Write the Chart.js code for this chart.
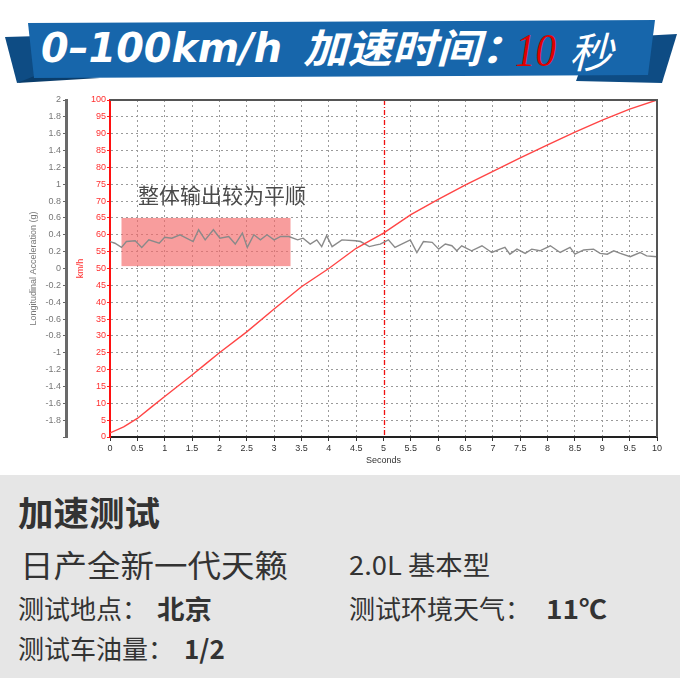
<!DOCTYPE html>
<html>
<head>
<meta charset="utf-8">
<script src="https://cdn.jsdelivr.net/npm/chart.js@4.4.0/dist/chart.umd.min.js"></script>
<style>
  body { margin: 0; width: 680px; height: 678px; background: #fff; position: relative; overflow: hidden; }
  #banner { position: absolute; left: 0; top: 0; }
  #wrap { position: absolute; left: 0; top: 88px; width: 680px; height: 382px; }
  #info { position: absolute; left: 0; top: 475px; background: #e6e6e6; }
</style>
</head>
<body>

<svg id="banner" width="680" height="90">
  <polygon points="5,37 40,36 42,78 17,83" fill="#0e4c84"/>
  <polygon points="17,83 42,73 100,78" fill="#0a3d6b"/>
  <polygon points="640,36 677,34 662,83 576,81 580,70" fill="#0e4c84"/>
  <polygon points="28,23 655,20 648,75 34,78" fill="#1766ab"/>
  <text x="41" y="62" textLength="241" lengthAdjust="spacingAndGlyphs" fill="#fff"
        font-family="DejaVu Sans" font-weight="bold" font-style="italic" font-size="41">0–100km/h</text>
  <text x="303" y="63" textLength="222" lengthAdjust="spacingAndGlyphs" fill="#fff"
        font-family="Noto Sans CJK SC" font-weight="bold" font-style="italic" font-size="40">加速时间：</text>
  <text x="515" y="66" textLength="41" lengthAdjust="spacingAndGlyphs" fill="#e00000"
        font-family="Liberation Serif" font-style="italic" font-size="46">10</text>
  <text x="569" y="68" textLength="44" lengthAdjust="spacingAndGlyphs" fill="#fff"
        font-family="Noto Sans CJK SC" font-style="italic" font-size="42">秒</text>
</svg>

<div id="wrap"><canvas id="myChart"></canvas></div>

<svg id="info" width="680" height="203" font-family="Noto Sans CJK SC" fill="#333">
  <text x="18" y="51" font-size="34" font-weight="bold" textLength="142" lengthAdjust="spacingAndGlyphs">加速测试</text>
  <text x="20" y="102" font-size="31" textLength="268" lengthAdjust="spacingAndGlyphs">日产全新一代天籁</text>
  <text x="349" y="100" font-size="26" textLength="141" lengthAdjust="spacingAndGlyphs">2.0L 基本型</text>
  <text x="18" y="144" font-size="26">测试地点：</text>
  <text x="157" y="144" font-size="26" font-weight="bold" textLength="55" lengthAdjust="spacingAndGlyphs">北京</text>
  <text x="349" y="144" font-size="26">测试环境天气：</text>
  <text x="546" y="144" font-size="26" font-weight="bold" textLength="61" lengthAdjust="spacingAndGlyphs">11℃</text>
  <text x="18" y="184" font-size="26">测试车油量：</text>
  <text x="184" y="184" font-size="26" font-weight="bold">1/2</text>
</svg>

<script>

// speed (km/h) against time (s)
var speedTime   = [0, 0.25, 0.5, 0.75, 1, 1.25, 1.5, 1.75, 2, 2.5, 3, 3.5, 4, 4.5, 5, 5.5, 6, 6.5, 7, 7.5, 8, 8.5, 9, 9.5, 10];
var speedValues = [1.2, 3, 5.5, 8.8, 12, 15.2, 18.4, 21.7, 25, 31.2, 38, 44.6, 50, 56, 60.5, 66, 70.5, 74.8, 78.8, 82.8, 86.7, 90.5, 94, 97.3, 100];

// longitudinal acceleration (g) against time (s)
var accelTime   = [0, 0.09, 0.21, 0.3, 0.46, 0.58, 0.71, 0.9, 1.0, 1.13, 1.28, 1.37, 1.52, 1.62, 1.74, 1.89, 2.01, 2.17, 2.29, 2.42, 2.51, 2.63, 2.75, 2.87, 3.0, 3.12, 3.27, 3.43, 3.53, 3.66, 3.78, 3.87, 3.96, 4.06, 4.24, 4.49, 4.58, 4.74, 4.87, 4.94, 5.09, 5.21, 5.49, 5.61, 5.73, 5.89, 6.01, 6.13, 6.25, 6.34, 6.43, 6.61, 6.8, 6.98, 7.13, 7.22, 7.31, 7.44, 7.59, 7.71, 7.86, 8.05, 8.23, 8.41, 8.5, 8.66, 8.84, 8.96, 9.09, 9.21, 9.33, 9.51, 9.69, 9.81, 10];
var accelValues = [0.32, 0.30, 0.25, 0.32, 0.33, 0.25, 0.34, 0.30, 0.37, 0.36, 0.40, 0.37, 0.32, 0.46, 0.34, 0.46, 0.36, 0.38, 0.29, 0.42, 0.25, 0.40, 0.34, 0.40, 0.34, 0.38, 0.38, 0.34, 0.36, 0.29, 0.34, 0.26, 0.39, 0.26, 0.34, 0.33, 0.32, 0.26, 0.28, 0.29, 0.34, 0.25, 0.34, 0.19, 0.32, 0.31, 0.23, 0.29, 0.27, 0.21, 0.27, 0.21, 0.27, 0.19, 0.23, 0.25, 0.17, 0.23, 0.18, 0.23, 0.21, 0.27, 0.19, 0.25, 0.17, 0.22, 0.23, 0.18, 0.17, 0.21, 0.18, 0.14, 0.19, 0.15, 0.14];

var xTicks = [0, 0.5, 1, 1.5, 2, 2.5, 3, 3.5, 4, 4.5, 5, 5.5, 6, 6.5, 7, 7.5, 8, 8.5, 9, 9.5, 10];
var xTickLabels = ['0', '0.5', '1', '1.5', '2', '2.5', '3', '3.5', '4', '4.5', '5', '5.5', '6', '6.5', '7', '7.5', '8', '8.5', '9', '9.5', '10'];
var gTicks = [-2, -1.8, -1.6, -1.4, -1.2, -1, -0.8, -0.6, -0.4, -0.2, 0, 0.2, 0.4, 0.6, 0.8, 1, 1.2, 1.4, 1.6, 1.8, 2];
var gTickLabels = ['', '-1.8', '-1.6', '-1.4', '-1.2', '-1', '-0.8', '-0.6', '-0.4', '-0.2', '0', '0.2', '0.4', '0.6', '0.8', '1', '1.2', '1.4', '1.6', '1.8', '2'];

var markerTime = 5;                 // red dashed line
var noteBox = [0.21, 3.3, 50.7, 65]; // t0, t1, kmh0, kmh1
var noteText = '整体输出较为平顺';
var noteAt = [0.51, 71.8];

function pts(xs, ys) {
  return xs.map(function(v, i) { return {x: v, y: ys[i]}; });
}

function edgeColor(ctx, hidden, col) {
  var v = ctx.tick ? ctx.tick.value : null;
  if (hidden.indexOf(v) >= 0) return 'rgba(0,0,0,0)';
  return col;
}

var extras = {
  id: 'extras',
  beforeDatasetsDraw: function(chart) {
    var ctx = chart.ctx, xs = chart.scales.x, ks = chart.scales.kmh, area = chart.chartArea;
    ctx.save();
    var x0 = xs.getPixelForValue(noteBox[0]), x1 = xs.getPixelForValue(noteBox[1]);
    var y0 = ks.getPixelForValue(noteBox[3]), y1 = ks.getPixelForValue(noteBox[2]);
    ctx.fillStyle = 'rgba(245,105,105,0.65)';
    ctx.fillRect(x0, y0, x1 - x0, y1 - y0);

    var mx = Math.round(xs.getPixelForValue(markerTime)) + 0.5;
    ctx.strokeStyle = '#f01010';
    ctx.lineWidth = 1.3;
    ctx.setLineDash([5, 2, 1, 2]);
    ctx.beginPath();
    ctx.moveTo(mx, area.top);
    ctx.lineTo(mx, area.bottom);
    ctx.stroke();
    ctx.restore();
  },
  afterDatasetsDraw: function(chart) {
    var ctx = chart.ctx, xs = chart.scales.x, ks = chart.scales.kmh, area = chart.chartArea;
    ctx.save();
    ctx.strokeStyle = '#555';
    ctx.lineWidth = 2;
    ctx.beginPath();
    ctx.moveTo(area.left, area.top);
    ctx.lineTo(area.right, area.top);
    ctx.lineTo(area.right, area.bottom);
    ctx.stroke();

    ctx.fillStyle = '#4a4a4a';
    ctx.font = '21px "Noto Sans CJK SC"';
    ctx.textBaseline = 'middle';
    ctx.fillText(noteText, xs.getPixelForValue(noteAt[0]), ks.getPixelForValue(noteAt[1]));
    ctx.restore();
  }
};

var tickFont = { family: 'Liberation Sans', size: 9 };

var data = {
  datasets: [
    {
      label: 'speed',
      data: pts(speedTime, speedValues),
      yAxisID: 'kmh',
      borderColor: '#ff4545',
      borderWidth: 1.4,
      pointRadius: 0,
      tension: 0
    },
    {
      label: 'accel',
      data: pts(accelTime, accelValues),
      yAxisID: 'g',
      borderColor: '#8a8a8a',
      borderWidth: 1.4,
      pointRadius: 0,
      tension: 0
    }
  ]
};

var options = {
  responsive: true,
  maintainAspectRatio: false,
  animation: false,
  layout: { padding: { top: 12, right: 23, left: 0, bottom: 0 } },
  plugins: { legend: { display: false }, tooltip: { enabled: false } },
  scales: {
    x: {
      type: 'linear',
      min: 0, max: 10,
      afterBuildTicks: function(axis) { axis.ticks = xTicks.map(function(v) { return {value: v}; }); },
      afterFit: function(axis) { axis.height = 33; },
      ticks: {
        color: '#333', font: tickFont, padding: 2, maxRotation: 0, autoSkip: false,
        callback: function(v, i) { return xTickLabels[i]; }
      },
      grid: {
        color: function(c) { return edgeColor(c, [0, markerTime, 10], '#9a9a9a'); },
        tickColor: '#333', tickLength: 4
      },
      border: { color: '#222', width: 2, dash: [2, 3] },
      title: { display: true, text: 'Seconds', color: '#333', font: tickFont, padding: { top: 0, bottom: 4 } }
    },
    g: {
      type: 'linear',
      position: 'left',
      weight: 1,
      min: -2, max: 2,
      afterBuildTicks: function(axis) { axis.ticks = gTicks.map(function(v) { return {value: v}; }); },
      afterFit: function(axis) { axis.width = 66; },
      ticks: {
        color: '#777', font: tickFont, padding: 2, autoSkip: false,
        callback: function(v, i) { return gTickLabels[i]; }
      },
      grid: { drawOnChartArea: false, color: '#666', tickLength: 3 },
      border: { color: '#6a6a6a', width: 3 },
      title: { display: true, text: 'Longitudinal Acceleration (g)', color: '#777', font: tickFont, padding: { top: 28, bottom: 0 } }
    },
    kmh: {
      type: 'linear',
      position: 'left',
      weight: 0,
      min: 0, max: 100,
      afterFit: function(axis) { axis.width = 44; },
      ticks: { stepSize: 5, color: '#ff3030', font: tickFont, padding: 1, autoSkip: false },
      grid: {
        color: function(c) { return edgeColor(c, [0, 100], '#9a9a9a'); },
        tickColor: '#ff2020', tickLength: 3
      },
      border: { color: '#ff1010', width: 2, dash: [2, 3] },
      title: { display: true, text: 'km/h', color: '#ff3030', font: tickFont, padding: { top: 9, bottom: 0 } }
    }
  }
};

var ctx = document.getElementById('myChart');

var accelChart = new Chart(ctx, {
  type: 'line',
  data: data,
  options: options,
  plugins: [extras]
});

</script>
</body>
</html>
